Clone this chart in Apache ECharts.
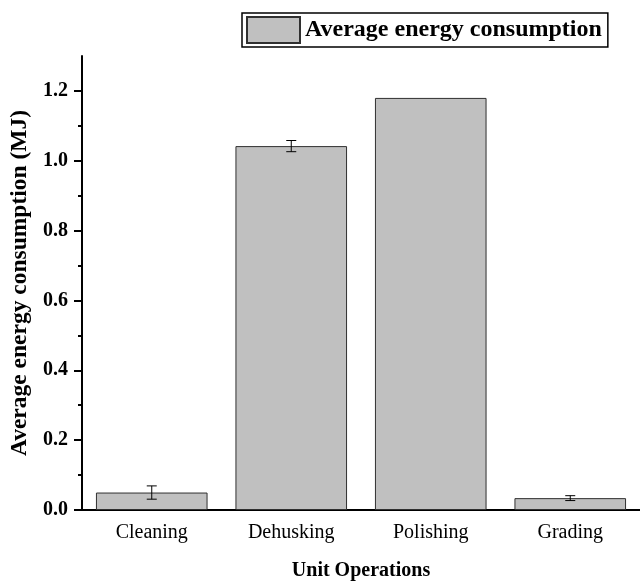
<!DOCTYPE html>
<html>
<head>
<meta charset="utf-8">
<script src="https://cdn.jsdelivr.net/npm/echarts@6/dist/echarts.min.js"></script>
<style>
  html, body { margin: 0; padding: 0; background: #fff; }
  #chart { width: 640px; height: 586px; }
</style>
</head>
<body>
<div id="chart"></div>
<script>
// Unit operations and their average energy use (MJ) with standard deviation
const categories = ['Cleaning', 'Dehusking', 'Polishing', 'Grading'];
const meanEnergy = [0.05, 1.042, 1.18, 0.034];
const stdEnergy = [0.019, 0.016, 0, 0.007];
const majorTicks = [0, 0.2, 0.4, 0.6, 0.8, 1.0, 1.2];
const minorTicks = [0.1, 0.3, 0.5, 0.7, 0.9, 1.1];

const serif = '"Liberation Serif", "Times New Roman", serif';

const chart = echarts.init(document.getElementById('chart'), null, { renderer: 'canvas' });

const errorData = categories.map((c, i) => [i, meanEnergy[i], stdEnergy[i]]);

chart.setOption({
  animation: false,
  backgroundColor: '#ffffff',
  textStyle: { fontFamily: serif },
  grid: { left: 82, right: -10, top: 56, bottom: 71, containLabel: false },
  legend: {
    show: true,
    left: 242,
    top: 13,
    padding: [3, 6, 3, 4],
    borderColor: '#000',
    borderWidth: 1.5,
    icon: 'rect',
    itemWidth: 53,
    itemHeight: 26,
    itemGap: 7,
    data: ['Average energy consumption'],
    textStyle: { fontFamily: serif, fontWeight: 'bold', fontSize: 24, color: '#000' }
  },
  xAxis: [
    {
      type: 'category',
      data: categories,
      position: 'bottom',
      axisLine: { lineStyle: { color: '#000', width: 2 } },
      axisTick: { alignWithLabel: true, length: 9, lineStyle: { color: '#000', width: 2 } },
      axisLabel: { fontFamily: serif, fontSize: 20, color: '#000', margin: 13 },
      name: 'Unit Operations',
      nameLocation: 'middle',
      nameGap: 51,
      nameTextStyle: { fontFamily: serif, fontWeight: 'bold', fontSize: 20, color: '#000' }
    },
    {
      // boundary ticks between categories
      type: 'category',
      data: categories,
      position: 'bottom',
      axisLine: { show: false },
      axisTick: { length: 5, lineStyle: { color: '#000', width: 2 } },
      axisLabel: { show: false }
    }
  ],
  yAxis: [
    {
      type: 'value',
      min: 0,
      max: 1.3,
      interval: 0.2,
      splitLine: { show: false },
      axisLine: { show: true, lineStyle: { color: '#000', width: 2 } },
      axisTick: { show: true, length: 8, customValues: majorTicks, lineStyle: { color: '#000', width: 2 } },
      axisLabel: {
        customValues: majorTicks,
        fontFamily: serif, fontWeight: 'bold', fontSize: 20, color: '#000', margin: 14,
        formatter: v => v.toFixed(1)
      },
      name: 'Average energy consumption (MJ)',
      nameLocation: 'middle',
      nameGap: 40,
      nameTextStyle: { fontFamily: serif, fontWeight: 'bold', fontSize: 23.5, color: '#000' }
    },
    {
      // minor ticks
      type: 'value',
      min: 0,
      max: 1.3,
      position: 'left',
      splitLine: { show: false },
      axisLine: { show: false },
      axisTick: { show: true, length: 4, customValues: minorTicks, lineStyle: { color: '#000', width: 2 } },
      axisLabel: { show: false }
    }
  ],
  series: [
    {
      name: 'Average energy consumption',
      type: 'bar',
      data: meanEnergy,
      barWidth: '80%',
      itemStyle: { color: '#c0c0c0', borderColor: '#303030', borderWidth: 1 },
      z: 2
    },
    {
      name: 'error',
      type: 'custom',
      data: errorData,
      z: 3,
      silent: true,
      renderItem: function (params, api) {
        const i = api.value(0);
        const m = api.value(1);
        const e = api.value(2);
        if (!e) return null;
        const hi = api.coord([i, m + e]);
        const lo = api.coord([i, m - e]);
        const half = 5;
        const style = { stroke: '#000', lineWidth: 1 };
        return {
          type: 'group',
          children: [
            { type: 'line', shape: { x1: hi[0], y1: hi[1], x2: lo[0], y2: lo[1] }, style },
            { type: 'line', shape: { x1: hi[0] - half, y1: hi[1], x2: hi[0] + half, y2: hi[1] }, style },
            { type: 'line', shape: { x1: lo[0] - half, y1: lo[1], x2: lo[0] + half, y2: lo[1] }, style }
          ]
        };
      }
    }
  ]
});
</script>
</body>
</html>
